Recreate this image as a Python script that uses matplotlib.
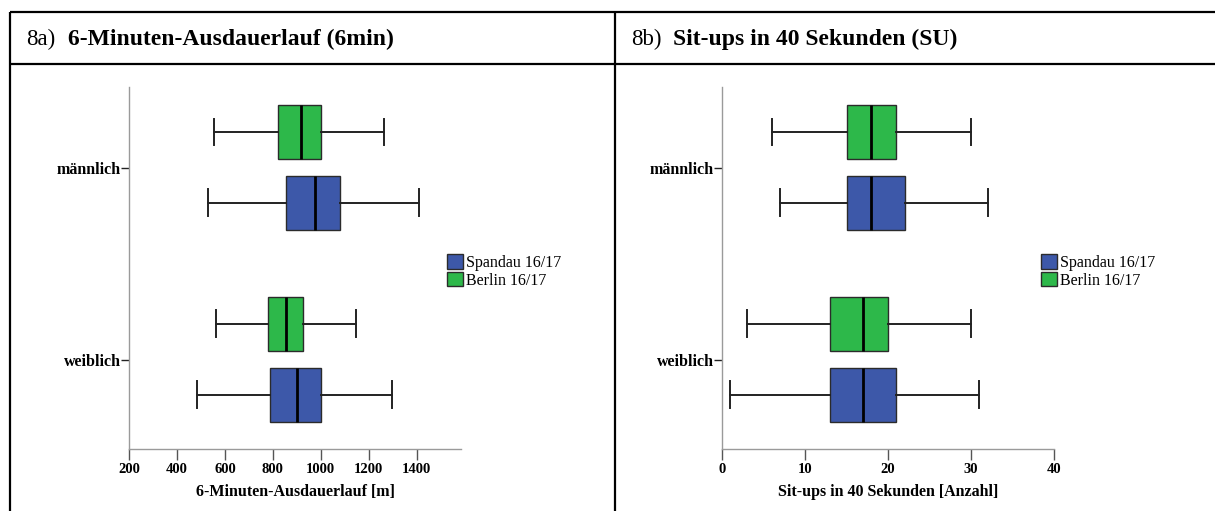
import matplotlib
matplotlib.use("Agg")

import matplotlib.pyplot as plt
from matplotlib.lines import Line2D
from matplotlib.patches import Patch

plt.rcParams["font.family"] = ["Liberation Serif", "DejaVu Serif"]

# ── Daten (Reihenfolge: männlich, weiblich) ──
groups = ["männlich", "weiblich"]
series_names = ["Spandau 16/17", "Berlin 16/17"]

# 8a) 6-Minuten-Ausdauerlauf [m]
run_spandau_lo = [531, 485]
run_spandau_q1 = [854, 787]
run_spandau_med = [975, 899]
run_spandau_q3 = [1082, 999]
run_spandau_hi = [1411, 1296]

run_berlin_lo = [555, 561]
run_berlin_q1 = [823, 780]
run_berlin_med = [918, 853]
run_berlin_q3 = [1003, 925]
run_berlin_hi = [1262, 1148]

run_ticks = [200, 400, 600, 800, 1000, 1200, 1400]

# 8b) Sit-ups in 40 Sekunden [Anzahl]
su_spandau_lo = [7, 1]
su_spandau_q1 = [15, 13]
su_spandau_med = [18, 17]
su_spandau_q3 = [22, 21]
su_spandau_hi = [32, 31]

su_berlin_lo = [6, 3]
su_berlin_q1 = [15, 13]
su_berlin_med = [18, 17]
su_berlin_q3 = [21, 20]
su_berlin_hi = [30, 30]

su_ticks = [0, 10, 20, 30, 40]

COLOR_SPANDAU = "#3d58a9"
COLOR_BERLIN = "#2db84a"
COLOR_EDGE = "#2b2b2b"
COLOR_AXIS = "#9a9a9a"

W, H = 1215, 511
fig = plt.figure(figsize=(W / 100, H / 100), dpi=100, facecolor="white")


def px(x, y):
    """Pixel (von oben links) -> Figure-Koordinaten"""
    return x / W, 1 - y / H


def make_stats(lo, q1, med, q3, hi):
    return [dict(whislo=a, q1=b, med=c, q3=d, whishi=e)
            for a, b, c, d, e in zip(lo, q1, med, q3, hi)]


def draw_panel(left_px, spandau, berlin, xlim, ticks, xlabel):
    x0, y0 = px(left_px, 449)
    ax = fig.add_axes([x0, y0, 332 / W, (449 - 87) / H])

    pos = list(range(len(groups)))
    for stats, offset, color in [(berlin, -0.1875, COLOR_BERLIN),
                                 (spandau, 0.182, COLOR_SPANDAU)]:
        ax.bxp(stats, positions=[p + offset for p in pos], widths=0.281,
               orientation="horizontal", patch_artist=True,
               showfliers=False,
               boxprops=dict(facecolor=color, edgecolor=COLOR_EDGE, linewidth=1.0),
               medianprops=dict(color="black", linewidth=2.0),
               whiskerprops=dict(color="#222", linewidth=1.4),
               capprops=dict(color="#222", linewidth=1.4))

    ax.set_xlim(*xlim)
    ax.set_ylim(1.464, -0.422)
    ax.set_yticks(pos)
    ax.set_yticklabels(groups, fontsize=11.5, fontweight="bold")
    ax.set_xticks(ticks)
    ax.set_xticklabels([str(t) for t in ticks], fontsize=10.5, fontweight="bold")
    ax.tick_params(axis="y", length=6, width=1, color="#222", pad=0)
    ax.tick_params(axis="x", length=8, width=1, color="#555", pad=2)
    for side in ("top", "right"):
        ax.spines[side].set_visible(False)
    for side in ("left", "bottom"):
        ax.spines[side].set_color(COLOR_AXIS)
        ax.spines[side].set_linewidth(1.0)
    ax.set_xlabel(xlabel, fontsize=11.5, fontweight="bold", labelpad=6)
    return ax


run_sp = make_stats(run_spandau_lo, run_spandau_q1, run_spandau_med, run_spandau_q3, run_spandau_hi)
run_be = make_stats(run_berlin_lo, run_berlin_q1, run_berlin_med, run_berlin_q3, run_berlin_hi)
su_sp = make_stats(su_spandau_lo, su_spandau_q1, su_spandau_med, su_spandau_q3, su_spandau_hi)
su_be = make_stats(su_berlin_lo, su_berlin_q1, su_berlin_med, su_berlin_q3, su_berlin_hi)

ax_a = draw_panel(129, run_sp, run_be, (200, 1585), run_ticks,
                  "6-Minuten-Ausdauerlauf [m]")
ax_b = draw_panel(722, su_sp, su_be, (0, 40), su_ticks,
                  "Sit-ups in 40 Sekunden [Anzahl]")

# ── Legenden ──
handles = [Patch(facecolor=COLOR_SPANDAU, edgecolor=COLOR_EDGE, linewidth=1.0),
           Patch(facecolor=COLOR_BERLIN, edgecolor=COLOR_EDGE, linewidth=1.0)]
for lx in (447, 1041):
    fig.legend(handles, series_names, loc="upper left",
               bbox_to_anchor=px(lx, 254), frameon=False, fontsize=11.5,
               handlelength=1.0, handleheight=1.05, handletextpad=0.2,
               labelspacing=0.05, borderpad=0, borderaxespad=0)

# ── Tabellenrahmen ──
frame_kw = dict(color="black", linewidth=1.6, transform=fig.transFigure,
                solid_capstyle="butt")
for y in (12, 64):
    fig.add_artist(Line2D([10 / W, 1.0], [1 - y / H] * 2, **frame_kw))
for x in (10, 615):
    fig.add_artist(Line2D([x / W] * 2, [1 - 12 / H, 0], **frame_kw))

# ── Überschriften ──
for x_num, x_bold, num, title in [(26, 68, "8a)", "6-Minuten-Ausdauerlauf (6min)"),
                                  (631, 673, "8b)", "Sit-ups in 40 Sekunden (SU)")]:
    fig.text(*px(x_num, 39), num, fontsize=16.5, va="center", ha="left")
    fig.text(*px(x_bold, 39), title, fontsize=17, fontweight="bold",
             va="center", ha="left")

fig.savefig("out.png", dpi=100, facecolor="white")
